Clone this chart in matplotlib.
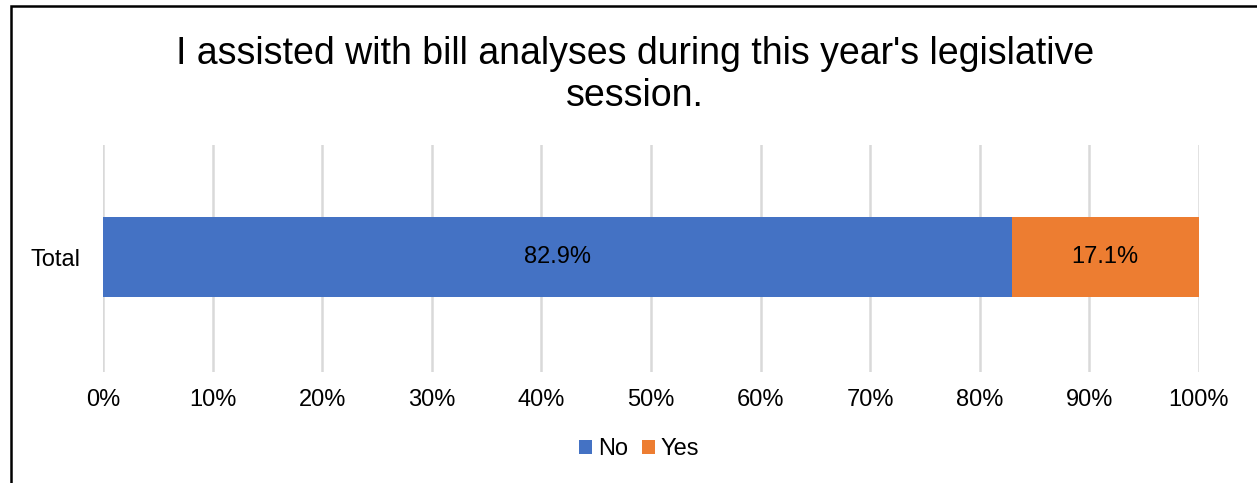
import matplotlib.pyplot as plt
from matplotlib.patches import Rectangle

plt.rcParams['font.family'] = ['Liberation Sans', 'DejaVu Sans']

categories = ["Total"]
series_names = ["No", "Yes"]
no_values = [82.9]
yes_values = [17.1]
colors = ["#4472C4", "#ED7D31"]
x_ticks = [0, 10, 20, 30, 40, 50, 60, 70, 80, 90, 100]

fig = plt.figure(figsize=(12.57, 4.83), dpi=100)
ax = fig.add_axes([103 / 1257, 1 - 372 / 483, (1199 - 103) / 1257, (372 - 145) / 483])

# border of the chart area (cropped at right and bottom)
fig.patches.append(Rectangle((11 / 1257, -0.1), 1.2, 1 - 6 / 483 + 0.1,
                             transform=fig.transFigure, fill=False,
                             edgecolor="black", linewidth=1.8))

left = 0
for name, vals, col in zip(series_names, [no_values, yes_values], colors):
    bars = ax.barh(categories, vals, left=left, height=0.355, color=col, label=name, zorder=3)
    for b, v in zip(bars, vals):
        ax.text(b.get_x() + b.get_width() / 2, b.get_y() + b.get_height() / 2,
                f"{v:.1f}%", ha="center", va="center", fontsize=17, zorder=4)
    left = left + vals[0]

ax.set_xlim(0, 100)
ax.set_ylim(-0.51, 0.5)
ax.set_xticks(x_ticks)
ax.set_xticklabels([f"{t}%" for t in x_ticks], fontsize=17)
ax.tick_params(axis="both", length=0, pad=12)
ax.tick_params(axis="y", labelsize=17, pad=16)
ax.grid(axis="x", color="#d9d9d9", linewidth=1.8, zorder=0)
for s in ax.spines.values():
    s.set_visible(False)

fig.text(635 / 1257, 1 - 75 / 483,
         "I assisted with bill analyses during this year's legislative\nsession.",
         ha="center", va="center", fontsize=27, linespacing=1.25)

fig.legend(loc="center", bbox_to_anchor=(639 / 1257, 1 - 449 / 483), ncol=2,
           frameon=False, fontsize=17, handlelength=0.55, handleheight=0.55,
           handletextpad=0.25, columnspacing=0.6)

fig.savefig("out.png", dpi=100)
